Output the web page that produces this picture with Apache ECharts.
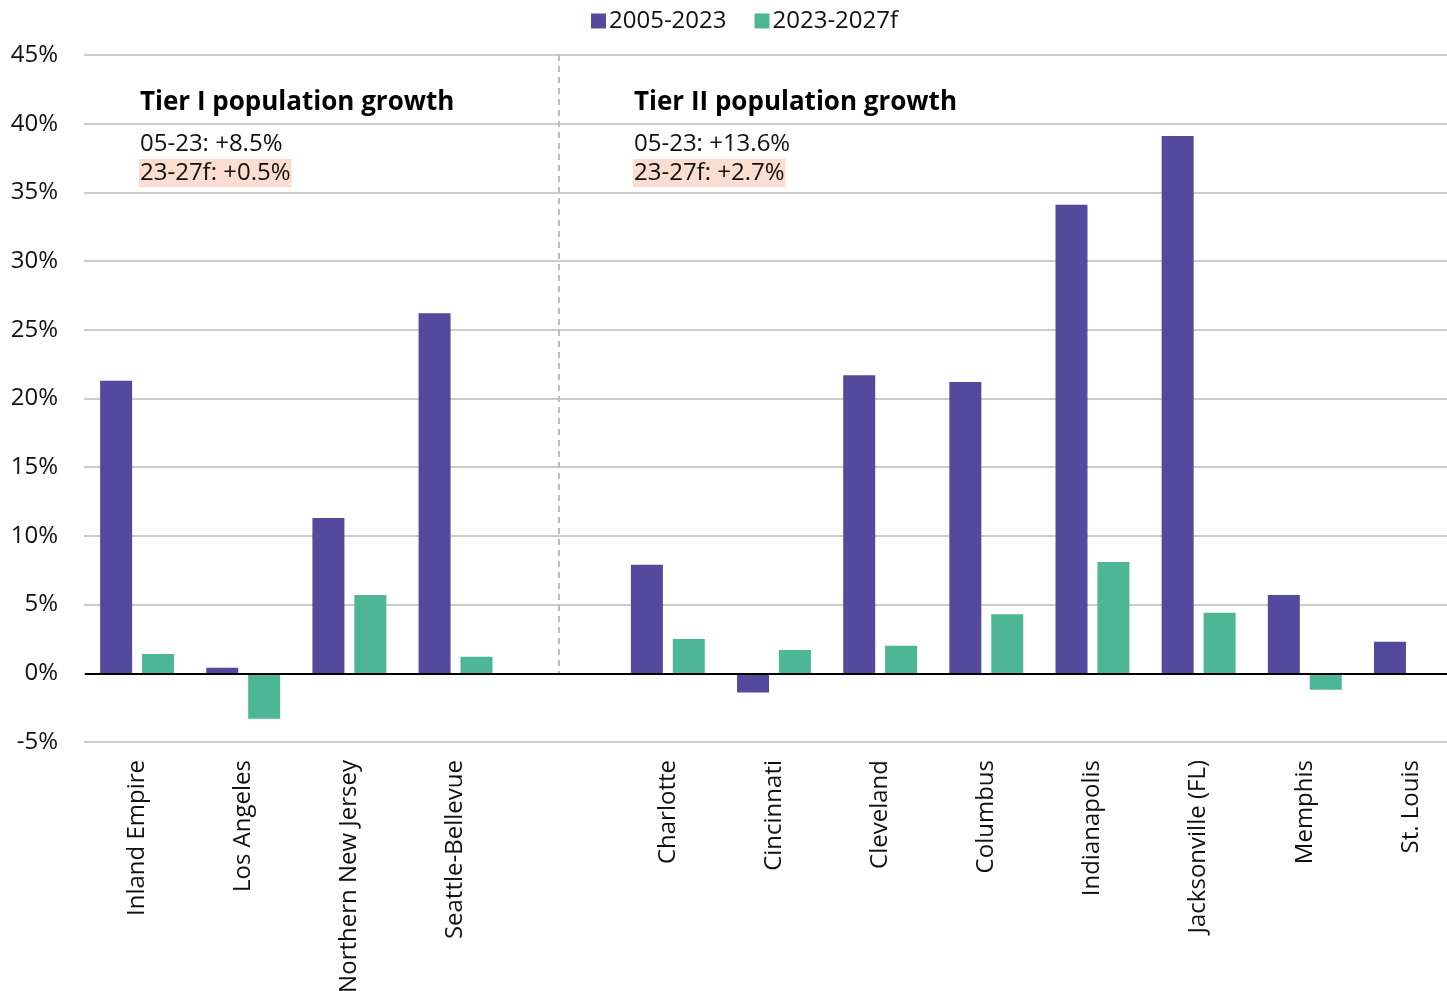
<!DOCTYPE html>
<html><head><meta charset="utf-8">
<script src="https://cdn.jsdelivr.net/npm/echarts@6/dist/echarts.min.js"></script>
<style>html,body{margin:0;padding:0;background:#fff}#c{width:1447px;height:991px}</style>
</head><body><div id="c"></div>
<script>
const categories = ['Inland Empire','Los Angeles','Northern New Jersey','Seattle-Bellevue','','Charlotte','Cincinnati','Cleveland','Columbus','Indianapolis','Jacksonville (FL)','Memphis','St. Louis'];
const growth0523 = [21.3, 0.4, 11.3, 26.2, '-', 7.9, -1.4, 21.7, 21.2, 34.1, 39.1, 5.7, 2.3];
const growth2327 = [1.4, -3.3, 5.7, 1.2, '-', 2.5, 1.7, 2.0, 4.3, 8.1, 4.4, -1.2, 0];
const yTicks = {min: -5, max: 45, interval: 5};
const seriesNames = ['2005-2023', '2023-2027f'];
const panels = [
  {title: 'Tier I population growth', l1: '05-23: +8.5%', l2: '23-27f: +0.5%', x: 140},
  {title: 'Tier II population growth', l1: '05-23: +13.6%', l2: '23-27f: +2.7%', x: 634}
];
const FONT = '"Open Sans", "Noto Sans", sans-serif';
const chart = echarts.init(document.getElementById('c'), null, {renderer: 'canvas'});
const graphics = [];
panels.forEach(p => {
  graphics.push({type: 'text', left: p.x, top: 90, style: {text: p.title, font: 'bold 26px ' + FONT, fill: '#000'}});
  graphics.push({type: 'text', left: p.x, top: 132, style: {text: p.l1, font: '24px ' + FONT, fill: '#111'}});
  graphics.push({type: 'text', left: p.x - 1, top: 159, style: {text: p.l2, font: '24px ' + FONT, fill: '#111', backgroundColor: '#FCDDD1', padding: [2, 1, 2, 1]}});
});
chart.setOption({
  animation: false,
  textStyle: {fontFamily: FONT},
  legend: {
    top: 4, left: 586, itemWidth: 15, itemHeight: 15, itemGap: 28,
    icon: 'rect',
    textStyle: {fontSize: 24, color: '#111', fontFamily: FONT, padding: [0, 0, 0, -2]},
    data: seriesNames
  },
  grid: {left: 84, right: -17, top: 55, bottom: 249, containLabel: false, outerBoundsMode: 'none'},
  xAxis: {
    type: 'category', data: categories,
    axisLine: {show: false, onZero: false},
    axisTick: {show: false},
    axisLabel: {rotate: 90, fontSize: 24, color: '#111', margin: 18, interval: 0, fontFamily: FONT}
  },
  yAxis: {
    type: 'value', min: yTicks.min, max: yTicks.max, interval: yTicks.interval,
    axisLabel: {formatter: '{value}%', fontSize: 24, color: '#111', margin: 26, fontFamily: FONT},
    splitLine: {lineStyle: {color: '#cbcbc8', width: 2}},
    axisLine: {show: false}, axisTick: {show: false}
  },
  series: [
    {
      name: seriesNames[0], type: 'bar', data: growth0523, barWidth: 32, barGap: '31%',
      itemStyle: {color: '#55499E'},
      markLine: {
        silent: true, symbol: 'none', label: {show: false},
        data: [
          [{coord: [4, 45], x: 559, lineStyle: {color: '#bdbdbd', type: [6, 5], width: 2}}, {coord: [4, 0], x: 559}],
          [{coord: [0, 0], x: 85, lineStyle: {color: '#000', type: 'solid', width: 2}}, {coord: [12, 0], x: 1447}]
        ]
      }
    },
    {
      name: seriesNames[1], type: 'bar', data: growth2327, barWidth: 32,
      itemStyle: {color: '#4DB795'}
    }
  ],
  graphic: graphics
});
</script></body></html>
